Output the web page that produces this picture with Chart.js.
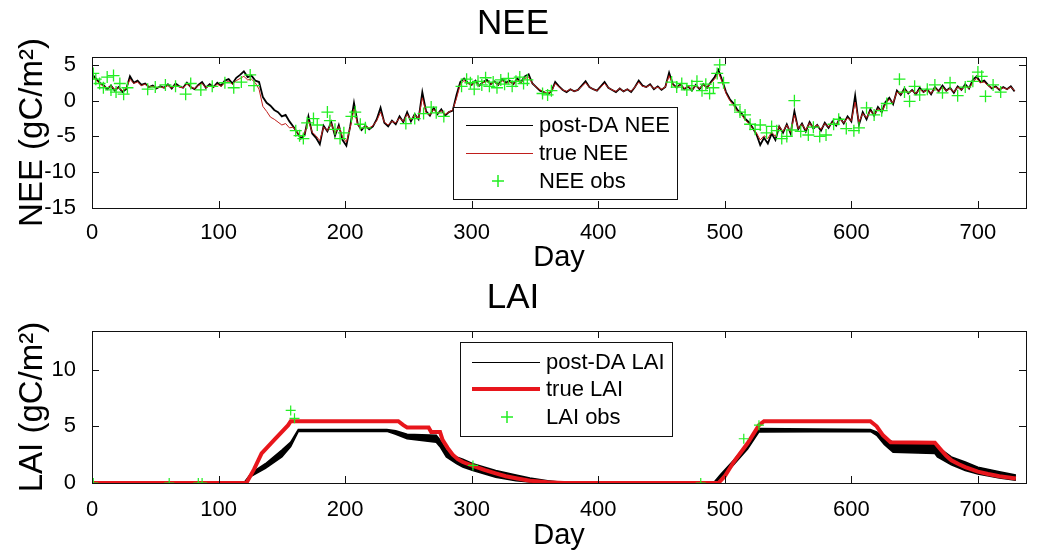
<!DOCTYPE html>
<html><head><meta charset="utf-8">
<script src="https://cdn.jsdelivr.net/npm/chart.js@4.4.1/dist/chart.umd.min.js"></script>
<style>
body{margin:0;background:#fff;}
.wrap{position:absolute;left:0;width:1037px;height:275px;}
canvas{display:block}
</style>
</head><body>
<div class="wrap" style="top:0"><canvas id="nee" width="1037" height="275"></canvas></div>
<div class="wrap" style="top:275px"><canvas id="lai" width="1037" height="275"></canvas></div>
<script>
const FONT = '"Liberation Sans", Arial, Helvetica, sans-serif';
const X_MAX = 738;
const NEE_STEP = 3; // one value every 3 days, starting day 0

// ---- NEE (gC/m2) ----
const postNEE = [
 3.7,3.1,2.5,2.2,1.6,2.1,1.4,1.9,1.2,1.6,
 3.4,2.5,2.8,2.2,2.4,1.9,2.1,1.7,2.0,1.8,
 2.3,1.7,2.4,2.0,1.8,2.5,1.9,1.6,2.2,2.6,
 1.8,2.3,1.9,2.5,2.1,2.8,3.0,2.4,3.2,3.6,
 4.1,3.3,3.5,2.8,2.6,0.5,-0.3,-0.7,-1.3,-1.6,
 -2.2,-2.0,-2.9,-3.6,-4.4,-5.3,-4.8,-2.2,-4.6,-5.2,
 -6.1,-3.5,-4.3,-3.0,-4.9,-3.4,-5.5,-6.3,-3.6,-0.3,
 -3.3,-4.1,-3.5,-4.0,-3.6,-2.6,-1.0,-3.1,-3.6,-2.8,
 -3.3,-2.2,-3.0,-1.6,-2.9,-1.9,-2.6,1.2,-1.5,-2.1,
 -1.0,-1.9,-1.2,-2.1,-1.6,-1.4,0.8,2.6,3.1,2.5,
 2.2,2.8,2.1,2.6,2.9,2.3,2.7,2.2,3.0,2.5,
 2.8,2.3,3.1,2.6,3.4,3.7,2.4,1.9,1.4,1.2,
 0.9,1.3,2.6,2.0,1.5,1.2,1.6,1.3,1.5,2.1,
 2.7,1.9,1.6,1.4,2.0,2.6,1.8,1.5,1.2,1.7,
 1.3,1.6,1.2,1.9,2.8,2.1,1.9,2.3,1.6,2.0,
 1.5,1.9,3.9,2.3,1.8,2.3,1.6,2.0,1.4,2.2,
 1.6,2.3,1.8,2.6,3.3,4.3,2.8,1.2,0.2,-0.4,
 -1.3,-1.7,-2.5,-3.0,-3.8,-4.7,-6.2,-5.2,-6.0,-4.6,
 -5.5,-3.6,-4.5,-3.3,-4.6,-1.5,-4.0,-3.2,-4.3,-3.0,
 -3.9,-3.4,-4.2,-3.1,-3.8,-2.9,-3.5,-2.4,-3.2,-2.2,
 -2.9,0.7,-3.4,-1.6,-2.6,-1.2,-2.1,-0.9,-1.6,-0.2,
 0.4,-0.5,1.4,0.8,1.7,1.0,1.5,0.9,1.8,1.2,
 1.6,0.9,1.9,1.3,2.1,1.4,1.8,1.1,2.0,1.5,
 2.3,1.7,2.9,3.4,2.6,2.8,2.2,1.7,2.0,1.5,
 1.9,1.6,2.0,1.3
];
const trueNEE = [
 3.5,2.9,2.4,2.0,1.8,2.0,1.6,1.8,1.4,1.7,
 3.0,2.4,2.6,2.1,2.3,1.9,2.0,1.8,1.9,1.8,
 2.1,1.8,2.2,1.9,1.8,2.3,1.9,1.7,2.1,2.4,
 1.8,2.1,1.9,2.3,2.0,2.5,2.7,2.3,2.8,3.1,
 3.4,2.9,3.0,2.5,1.6,-0.8,-1.5,-2.3,-2.6,-3.0,
 -3.4,-3.2,-3.8,-3.7,-4.4,-5.0,-4.6,-2.8,-4.4,-4.9,
 -5.6,-3.7,-4.2,-3.2,-4.6,-3.6,-5.1,-5.8,-3.8,-1.2,
 -3.4,-3.9,-3.6,-3.8,-3.5,-2.8,-1.6,-3.0,-3.4,-2.9,
 -3.1,-2.4,-2.9,-1.9,-2.7,-2.0,-2.5,0.4,-1.7,-2.0,
 -1.2,-1.8,-1.4,-1.9,-1.6,-1.3,0.3,2.3,2.8,2.4,
 2.2,2.6,2.1,2.5,2.7,2.3,2.6,2.2,2.8,2.4,
 2.6,2.3,2.9,2.5,3.1,3.3,2.4,1.9,1.5,1.2,
 1.0,1.3,2.4,1.9,1.5,1.3,1.6,1.3,1.5,2.0,
 2.5,1.9,1.6,1.4,1.9,2.4,1.8,1.5,1.3,1.7,
 1.3,1.6,1.3,1.9,2.6,2.0,1.9,2.2,1.7,1.9,
 1.6,1.9,3.5,2.2,1.8,2.2,1.7,2.0,1.5,2.1,
 1.7,2.2,1.8,2.5,3.0,3.9,2.6,1.0,0.0,-0.7,
 -1.5,-1.9,-2.7,-3.2,-3.9,-4.5,-5.5,-4.9,-5.3,-4.4,
 -5.0,-3.6,-4.3,-3.4,-4.4,-2.0,-3.9,-3.3,-4.1,-3.1,
 -3.8,-3.4,-4.0,-3.2,-3.7,-3.0,-3.4,-2.6,-3.1,-2.4,
 -2.8,-0.2,-3.0,-1.8,-2.4,-1.4,-2.0,-1.1,-1.5,-0.5,
 0.2,-0.3,1.2,0.9,1.5,1.1,1.4,1.0,1.6,1.2,
 1.5,1.0,1.8,1.3,1.9,1.4,1.7,1.2,1.9,1.5,
 2.1,1.7,2.6,3.1,2.5,2.6,2.1,1.8,1.9,1.6,
 1.8,1.6,1.9,1.4
];
const obsNEEDays = [1,3,6,9,12,15,17,19,22,25,28,44,50,58,66,74,78,86,95,105,112,118,125,128,
 161,164,167,170,175,178,186,188,192,196,199,205,208,212,216,
 248,255,262,268,272,278,
 292,296,299,302,305,308,311,314,317,320,323,326,329,332,335,338,341,344,
 356,360,363,
 458,462,466,470,474,478,482,485,488,491,494,496,499,
 508,512,516,520,524,528,533,537,541,545,549,553,555,560,
 566,570,575,580,586,590,596,602,606,612,618,624,628,
 638,642,646,650,654,660,666,672,678,684,690,696,700,703,706,712,718];
const obsNEE = [3.8,3.0,2.4,1.8,3.3,1.5,3.5,1.2,2.4,0.9,1.8,1.6,1.9,2.2,2.0,0.9,2.4,1.5,2.0,2.5,1.8,2.6,3.6,2.1,
 -4.2,-4.9,-5.3,-3.1,-2.5,-3.4,-1.6,-2.8,-4.0,-5.3,-4.5,-2.2,-1.6,-3.3,-3.8,
 -3.2,-2.5,-1.8,-0.9,-1.7,-2.2,
 2.0,3.0,2.5,1.6,2.7,2.2,3.2,2.0,2.6,1.8,2.9,2.3,3.1,2.0,2.7,3.3,2.4,2.9,
 1.0,0.8,1.4,
 2.6,1.9,2.4,1.5,2.1,2.7,1.4,2.3,1.0,1.8,3.8,5.0,2.5,
 -0.6,-1.6,-2.0,-3.3,-4.0,-3.4,-4.5,-3.6,-4.2,-5.3,-5.0,-4.1,0.0,-4.3,
 -4.8,-3.7,-5.0,-4.8,-3.3,-2.6,-3.9,-4.2,-3.8,-1.0,-2.0,-1.4,-0.4,
 3.0,1.2,-0.1,2.0,0.8,1.6,2.2,1.1,2.5,0.7,1.9,2.7,4.0,3.4,0.6,2.2,1.2];

// ---- LAI ----
const trueLAIDays = [0,122,128,134,144,155,157,242,246,249,266,268,275,277,281,285,289,293,301,310,319,327,335,346,360,373,
 495,500,507,518,527,531,615,620,625,628,631,666,671,675,679,685,690,700,708,717,730];
const trueLAI = [0,0,1.2,2.6,3.8,5.1,5.45,5.45,5.1,4.9,4.9,4.5,4.5,3.8,3.1,2.5,2.1,1.85,1.5,1.15,0.85,0.6,0.42,0.2,0.07,0,
 0,0.6,1.85,3.5,5.1,5.45,5.45,5.0,4.2,3.9,3.6,3.55,2.9,2.4,2.0,1.65,1.4,1.0,0.8,0.6,0.4];
const postLAIDays = [0,120,126,137,150,157,163,233,240,249,272,275,280,288,293,301,319,335,346,360,373,
 491,497,507,518,527,615,620,626,633,666,668,679,690,700,717,730];
const postLAIHi = [0,0,0.9,1.7,2.9,3.6,4.72,4.72,4.6,4.3,4.2,3.8,2.9,2.3,2.1,1.7,1.1,0.7,0.45,0.2,0.05,
 0,0.8,2.0,3.5,4.8,4.72,4.5,4.0,3.6,3.6,3.2,2.3,1.85,1.4,1.0,0.7];
const postLAILo = [0,0,0.6,1.3,2.3,3.2,4.55,4.55,4.3,3.9,3.6,3.2,2.3,1.7,1.4,1.1,0.5,0.2,0.08,0,0,
 0,0.4,1.6,3.0,4.5,4.55,4.2,3.4,2.7,2.6,2.3,1.6,1.1,0.8,0.45,0.25];
const obsLAIDays = [1,61,84,87,157,160,301,481,515,527];
const obsLAI = [0,0,0,0,6.4,5.7,1.55,0,3.9,5.1];

const xTicks = [0,100,200,300,400,500,600,700];

// ---- helpers ----
const pts = (xs, ys) => ys.map((v, i) => ({x: xs[i], y: v}));
const stepPts = (ys) => ys.map((v, i) => ({x: i * NEE_STEP, y: v}));

const framePlugin = {
  id: 'frame',
  afterDatasetsDraw(chart) {
    const {ctx, chartArea: a, scales} = chart;
    ctx.save();
    ctx.strokeStyle = '#111';
    ctx.lineWidth = 1;
    ctx.beginPath();
    const L = 7;
    scales.x.ticks.forEach(t => {
      const px = Math.round(scales.x.getPixelForValue(t.value)) + 0.5;
      ctx.moveTo(px, a.bottom); ctx.lineTo(px, a.bottom - L);
      ctx.moveTo(px, a.top); ctx.lineTo(px, a.top + L);
    });
    scales.y.ticks.forEach(t => {
      const py = Math.round(scales.y.getPixelForValue(t.value)) + 0.5;
      ctx.moveTo(a.left, py); ctx.lineTo(a.left + L, py);
      ctx.moveTo(a.right, py); ctx.lineTo(a.right - L, py);
    });
    ctx.stroke();
    ctx.strokeRect(Math.round(a.left) + 0.5, Math.round(a.top) + 0.5, Math.round(a.right - a.left), Math.round(a.bottom - a.top));
    ctx.restore();
  }
};

const boxLegendPlugin = {
  id: 'boxLegend',
  afterDraw(chart, args, o) {
    const {ctx} = chart;
    ctx.save();
    ctx.fillStyle = '#fff';
    ctx.fillRect(o.box[0], o.box[1], o.box[2] - o.box[0], o.box[3] - o.box[1]);
    ctx.strokeStyle = '#111';
    ctx.lineWidth = 1;
    ctx.strokeRect(o.box[0] + 0.5, o.box[1] + 0.5, o.box[2] - o.box[0], o.box[3] - o.box[1]);
    ctx.font = '22px ' + FONT;
    ctx.textBaseline = 'middle';
    ctx.textAlign = 'left';
    o.items.forEach((it, i) => {
      const ds = chart.data.datasets[it.ds];
      const y = o.rows[i];
      ctx.strokeStyle = ds.borderColor;
      if (it.kind === 'line') {
        ctx.lineWidth = it.lw;
        const yy = it.lw % 2 ? y + 0.5 : y;
        ctx.beginPath(); ctx.moveTo(o.line[0], yy); ctx.lineTo(o.line[1], yy); ctx.stroke();
      } else {
        ctx.lineWidth = 1.5;
        const r = it.r, mx = o.marker, my = y;
        ctx.beginPath();
        ctx.moveTo(mx - r, my); ctx.lineTo(mx + r, my);
        ctx.moveTo(mx, my - r); ctx.lineTo(mx, my + r);
        ctx.stroke();
      }
      ctx.fillStyle = '#000';
      ctx.fillText(ds.label, o.text, y + 1);
    });
    ctx.restore();
  }
};

function baseOptions(p) {
  return {
    responsive: false,
    animation: false,
    devicePixelRatio: 1,
    layout: {padding: {left: 0, right: 11, top: 0, bottom: 0}},
    plugins: {
      legend: {display: false},
      tooltip: {enabled: false},
      title: {display: true, text: p.title, color: '#000', font: {family: FONT, size: 35, weight: 'normal'}, padding: p.titlePad},
      boxLegend: p.legend
    },
    scales: {
      x: {
        type: 'linear', min: 0, max: X_MAX,
        grid: {display: false}, border: {display: false},
        afterBuildTicks: s => { s.ticks = xTicks.map(v => ({value: v})); },
        ticks: {color: '#000', font: {family: FONT, size: 22}, padding: p.xTickPad, maxRotation: 0, includeBounds: false},
        title: {display: true, text: 'Day', color: '#000', font: {family: FONT, size: 29, lineHeight: p.dayLH}, padding: {top: 0, bottom: 0}},
        afterFit: s => { s.height = 67; }
      },
      y: {
        type: 'linear', min: p.yMin, max: p.yMax,
        grid: {display: false}, border: {display: false},
        afterBuildTicks: s => { s.ticks = p.yTicks.map(v => ({value: v})); },
        ticks: {color: '#000', font: {family: FONT, size: 22}, padding: 8},
        title: {display: true, text: p.yTitle, color: '#000', font: {family: FONT, size: 33}, padding: {top: 13, bottom: 0}},
        afterFit: s => { s.width = 92; }
      }
    }
  };
}

const GREEN = '#22ee22';

new Chart(document.getElementById('nee'), {
  type: 'line',
  data: {
    datasets: [
      {label: 'post-DA NEE', data: stepPts(postNEE), borderColor: '#000', borderWidth: 1.8, pointRadius: 0, tension: 0, order: 3},
      {label: 'true NEE', data: stepPts(trueNEE), borderColor: '#c01e1c', borderWidth: 1, pointRadius: 0, tension: 0, order: 2},
      {label: 'NEE obs', data: pts(obsNEEDays, obsNEE), showLine: false, borderColor: GREEN, backgroundColor: GREEN,
       pointStyle: 'cross', pointRadius: 6, borderWidth: 1.3, order: 1}
    ]
  },
  options: baseOptions({
    title: 'NEE', titlePad: {top: 3, bottom: 12}, xTickPad: 4, dayLH: 1.2,
    yMin: -15, yMax: 6.1, yTicks: [-15, -10, -5, 0, 5], yTitle: 'NEE (gC/m²)',
    legend: {box: [453, 107, 677, 199], rows: [125, 153, 181], line: [466, 533], marker: 498, text: 539,
      items: [{ds: 0, kind: 'line', lw: 1}, {ds: 1, kind: 'line', lw: 1}, {ds: 2, kind: 'marker', r: 6}]}
  }),
  plugins: [framePlugin, boxLegendPlugin]
});

new Chart(document.getElementById('lai'), {
  type: 'line',
  data: {
    datasets: [
      {label: 'post-DA LAI', data: pts(postLAIDays, postLAIHi), borderColor: '#000', backgroundColor: '#000', borderWidth: 1.5,
       pointRadius: 0, tension: 0, order: 3, fill: 1},
      {label: 'post-DA LAI low', data: pts(postLAIDays, postLAILo), borderColor: '#000', borderWidth: 1.5, pointRadius: 0, tension: 0, order: 3, fill: false},
      {label: 'true LAI', data: pts(trueLAIDays, trueLAI), borderColor: '#e8161c', borderWidth: 4, pointRadius: 0, tension: 0, order: 2, fill: false},
      {label: 'LAI obs', data: pts(obsLAIDays, obsLAI), showLine: false, borderColor: GREEN, backgroundColor: GREEN,
       pointStyle: 'cross', pointRadius: 5, borderWidth: 1.2, order: 1}
    ]
  },
  options: baseOptions({
    title: 'LAI', titlePad: {top: 2, bottom: 12}, xTickPad: 6, dayLH: 1.0,
    yMin: 0, yMax: 13.4, yTicks: [0, 5, 10], yTitle: 'LAI (gC/m²)',
    legend: {box: [460, 67, 672, 161], rows: [87, 114, 142], line: [472, 540], marker: 507, text: 546,
      items: [{ds: 0, kind: 'line', lw: 1}, {ds: 2, kind: 'line', lw: 4}, {ds: 3, kind: 'marker', r: 6}]}
  }),
  plugins: [framePlugin, boxLegendPlugin]
});
</script>
</body></html>
